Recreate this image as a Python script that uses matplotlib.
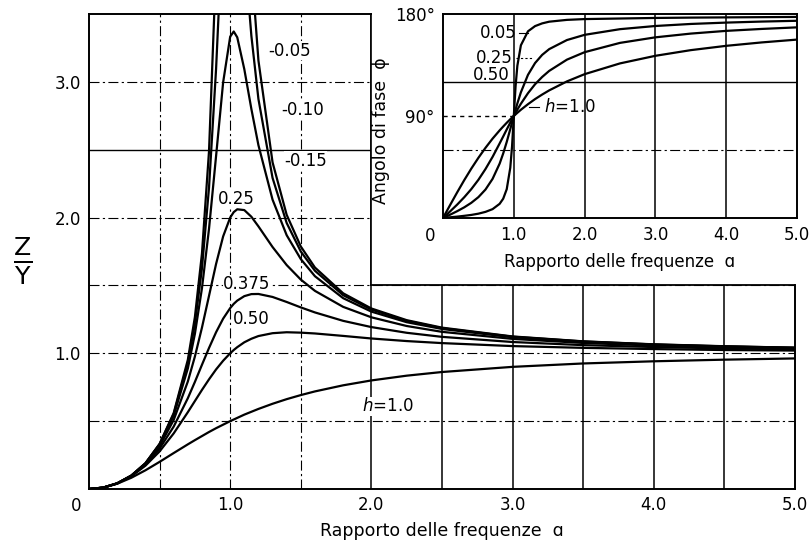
"""
Spostamento relativo Z/Y e angolo di fase in funzione del rapporto
delle frequenze, per diversi valori dello smorzamento h.
"""

import matplotlib
matplotlib.use("Agg")
import matplotlib.pyplot as plt
from matplotlib.patches import Rectangle

plt.rcParams["font.family"] = ["DejaVu Sans"]
plt.rcParams["mathtext.fontset"] = "dejavusans"

# ---------------------------------------------------------------------------
# Dati
# ---------------------------------------------------------------------------

# rapporto delle frequenze (grafico principale)
a_main = [0, 0.1, 0.2, 0.3, 0.4, 0.5, 0.6, 0.7, 0.75, 0.8, 0.85, 0.9, 0.95,
          1.0, 1.025, 1.05, 1.1, 1.15, 1.2, 1.3, 1.4, 1.5, 1.6, 1.8, 2.0,
          2.25, 2.5, 3.0, 3.5, 4.0, 4.5, 5.0]

zy_005 = [0, 0.010, 0.042, 0.099, 0.190, 0.333, 0.560, 0.952, 1.267, 1.735,
          2.489, 3.853, 6.630, 10.0, 9.190, 7.513, 5.104, 3.862, 3.157, 2.407,
          2.020, 1.787, 1.632, 1.442, 1.330, 1.244, 1.189, 1.124, 1.088,
          1.066, 1.052, 1.041]
zy_010 = [0, 0.010, 0.042, 0.099, 0.190, 0.330, 0.553, 0.927, 1.216, 1.625,
          2.220, 3.095, 4.226, 5.0, 4.976, 4.718, 3.978, 3.339, 2.873, 2.292,
          1.960, 1.750, 1.608, 1.428, 1.322, 1.239, 1.185, 1.122, 1.087,
          1.065, 1.051, 1.041]
zy_015 = [0, 0.010, 0.042, 0.098, 0.189, 0.327, 0.541, 0.888, 1.143, 1.479,
          1.917, 2.453, 2.996, 3.333, 3.371, 3.328, 3.093, 2.800, 2.533,
          2.132, 1.870, 1.694, 1.568, 1.406, 1.307, 1.229, 1.179, 1.118,
          1.084, 1.063, 1.049, 1.040]
zy_025 = [0, 0.010, 0.041, 0.098, 0.185, 0.316, 0.509, 0.792, 0.976, 1.189,
          1.423, 1.658, 1.861, 2.0, 2.040, 2.061, 2.055, 2.006, 1.935, 1.783,
          1.650, 1.543, 1.460, 1.342, 1.265, 1.201, 1.158, 1.106, 1.076,
          1.057, 1.045, 1.036]
zy_0375 = [0, 0.010, 0.041, 0.096, 0.179, 0.298, 0.460, 0.669, 0.789, 0.915,
           1.039, 1.155, 1.255, 1.333, 1.364, 1.388, 1.421, 1.436, 1.437,
           1.415, 1.378, 1.338, 1.301, 1.239, 1.193, 1.151, 1.121, 1.083,
           1.060, 1.046, 1.036, 1.029]
zy_050 = [0, 0.010, 0.041, 0.094, 0.172, 0.277, 0.410, 0.566, 0.648, 0.730,
          0.808, 0.881, 0.945, 1.0, 1.024, 1.045, 1.081, 1.107, 1.127, 1.148,
          1.155, 1.152, 1.146, 1.128, 1.109, 1.090, 1.075, 1.053, 1.040,
          1.031, 1.024, 1.020]
zy_100 = [0, 0.010, 0.039, 0.083, 0.138, 0.200, 0.265, 0.329, 0.360, 0.390,
          0.420, 0.448, 0.474, 0.500, 0.512, 0.524, 0.548, 0.569, 0.590,
          0.628, 0.662, 0.692, 0.719, 0.764, 0.800, 0.835, 0.862, 0.900,
          0.925, 0.941, 0.953, 0.962]

curve_main = [zy_005, zy_010, zy_015, zy_025, zy_0375, zy_050, zy_100]

# rapporto delle frequenze (riquadro dell'angolo di fase)
a_fase = [0, 0.1, 0.2, 0.3, 0.4, 0.5, 0.6, 0.7, 0.8, 0.85, 0.9, 0.95, 0.975,
          1.0, 1.025, 1.05, 1.1, 1.2, 1.3, 1.4, 1.5, 1.75, 2.0, 2.5, 3.0,
          3.5, 4.0, 4.5, 5.0]

fase_005 = [0, 0.6, 1.2, 1.9, 2.7, 3.8, 5.4, 7.8, 12.5, 17.0, 25.4, 44.3,
            63.1, 90.0, 116.3, 134.3, 152.4, 164.7, 169.3, 171.7, 173.2,
            174.8, 175.5, 176.0, 176.5, 176.8, 177.0, 177.2, 177.4]
fase_025 = [0, 2.9, 6.0, 9.4, 13.4, 18.4, 25.1, 34.5, 48.0, 56.9, 67.1, 78.4,
            84.2, 90.0, 95.6, 101.1, 110.9, 126.3, 136.7, 143.9, 149.0,
            157.0, 161.6, 166.6, 169.4, 171.2, 172.4, 173.3, 174.0]
fase_050 = [0, 5.8, 11.8, 18.3, 25.5, 33.7, 43.2, 53.9, 65.8, 71.9, 78.1,
            84.1, 87.1, 90.0, 92.8, 95.6, 100.8, 110.1, 118.0, 124.4, 129.8,
            139.7, 146.3, 154.5, 159.4, 162.7, 165.1, 166.8, 168.2]
fase_100 = [0, 11.4, 22.6, 33.4, 43.6, 53.1, 61.9, 70.0, 77.3, 80.7, 84.0,
            87.1, 88.6, 90.0, 91.4, 92.8, 95.5, 100.4, 104.9, 108.9, 112.6,
            120.5, 126.9, 136.4, 143.1, 148.1, 151.9, 154.9, 157.4]

curve_fase = [fase_005, fase_025, fase_050, fase_100]

tick_x = [0, 1, 2, 3, 4, 5]
tick_x_lab = ["0", "1.0", "2.0", "3.0", "4.0", "5.0"]
tick_y = [1, 2, 3]
tick_y_lab = ["1.0", "2.0", "3.0"]

XLABEL = "Rapporto delle frequenze  \u0251"

# ---------------------------------------------------------------------------
# Figura
# ---------------------------------------------------------------------------

LW_CURVA = 1.6
LW_GRIGLIA = 0.8
PUNTO_LINEA = (0, (9, 3, 2, 3))
# fondo bianco sotto le etichette: interrompe la griglia, non le curve
ETICH = dict(fc="white", ec="none", pad=0.3)

fig = plt.figure(figsize=(8.09, 5.44), dpi=100)
ax = fig.add_axes([0.110, 0.1011, 0.8727, 0.8732])
ax.set_xlim(0, 5)
ax.set_ylim(0, 3.5)

# griglia: tratteggiata nella zona di risonanza, continua a destra
for xv in [0.5, 1.0, 1.5]:
    ax.axvline(xv, color="black", lw=LW_GRIGLIA, ls=PUNTO_LINEA, zorder=1)
for xv in [2.0, 2.5, 3.0, 3.5, 4.0, 4.5]:
    ax.axvline(xv, color="black", lw=LW_GRIGLIA + 0.3, zorder=1)
for yv in [0.5, 1.0, 1.5, 2.0, 3.0]:
    ax.axhline(yv, color="black", lw=LW_GRIGLIA, ls=PUNTO_LINEA, zorder=1)
ax.axhline(2.5, color="black", lw=LW_GRIGLIA + 0.2, zorder=1)

# zona in alto a destra lasciata libera per il riquadro
ax.add_patch(Rectangle((2.0, 1.5), 3.2, 2.2, fc="white", ec="none",
                       zorder=2, clip_on=False))
ax.plot([2.0, 2.0], [1.5, 3.5], color="black", lw=1.2, zorder=2.5,
        clip_on=False)
ax.plot([2.0, 5.0], [1.5, 1.5], color="black", lw=1.3, zorder=2.5)
ax.plot([0, 2.0], [3.5, 3.5], color="black", lw=1.4, zorder=2.5,
        clip_on=False)
ax.plot([5.0, 5.0], [0, 1.5], color="black", lw=1.4, zorder=2.5,
        clip_on=False)

for zy in curve_main:
    ax.plot(a_main, zy, color="black", lw=LW_CURVA, zorder=3)

for s in ["top", "right"]:
    ax.spines[s].set_visible(False)
for s in ["left", "bottom"]:
    ax.spines[s].set_linewidth(1.4)

ax.set_xticks(tick_x[1:])
ax.set_xticklabels(tick_x_lab[1:], fontsize=12)
ax.set_yticks(tick_y)
ax.set_yticklabels(tick_y_lab, fontsize=12)
ax.tick_params(axis="x", length=0, pad=5)
ax.tick_params(axis="y", length=0, pad=6)
ax.text(-0.09, -0.06, tick_x_lab[0], fontsize=12, ha="center", va="top")
ax.set_xlabel(XLABEL, fontsize=12.5, labelpad=6)

fig.text(0.028, 0.52, r"$\frac{\mathrm{Z}}{\mathrm{Y}}$", fontsize=26,
         ha="center", va="center")

# etichette delle curve
kw = dict(fontsize=12, va="center", bbox=ETICH, zorder=2.8)
ax.text(1.27, 3.23, "-0.05", **kw)
ax.text(1.36, 2.79, "-0.10", **kw)
ax.text(1.38, 2.42, "-0.15", **kw)
ax.text(0.91, 2.14, "0.25", **kw)
ax.text(0.95, 1.51, "0.375", **kw)
ax.text(1.02, 1.25, "0.50", **kw)
ax.text(1.93, 0.61, r"$h$=1.0", **kw)

# ---------------------------------------------------------------------------
# Riquadro: angolo di fase
# ---------------------------------------------------------------------------

axi = fig.add_axes([0.5476, 0.5993, 0.4376, 0.375])
axi.set_zorder(5)
axi.set_facecolor("white")
axi.set_xlim(0, 5)
axi.set_ylim(0, 180)

for xv in [1, 2, 3, 4]:
    axi.axvline(xv, color="black", lw=1.1, zorder=1)
axi.axhline(120, color="black", lw=1.0, zorder=1)
axi.axhline(60, color="black", lw=LW_GRIGLIA, ls=PUNTO_LINEA, zorder=1)
axi.plot([0, 1], [90, 90], color="black", lw=1.0, ls=(0, (3, 3)), zorder=1)

for fase in curve_fase:
    axi.plot(a_fase, fase, color="black", lw=LW_CURVA, zorder=3)

for s in axi.spines.values():
    s.set_linewidth(1.4)

axi.set_xticks(tick_x[1:])
axi.set_xticklabels(tick_x_lab[1:], fontsize=12)
axi.set_yticks([90, 180])
axi.set_yticklabels(["90\u00b0", "180\u00b0"], fontsize=12)
axi.tick_params(length=0, pad=6)
axi.text(-0.18, -8, "0", fontsize=12, ha="center", va="top")
axi.set_xlabel(XLABEL, fontsize=12, labelpad=6)
axi.set_ylabel("Angolo di fase  \u03d5", fontsize=12.5)
axi.yaxis.set_label_coords(-0.15, 0.43)

kwi = dict(fontsize=12, va="center", zorder=4)
axi.text(0.52, 163, "0.05", **kwi)
axi.plot([1.08, 1.2], [163, 163], color="black", lw=0.8)
axi.text(0.46, 141, "0.25", **kwi)
axi.plot([1.03, 1.25], [141, 141], color="black", lw=0.8, ls=(0, (2, 2)))
axi.text(0.42, 126, "0.50", **kwi)
axi.text(1.42, 98, r"$h$=1.0", **kwi)
axi.plot([1.22, 1.36], [98, 98], color="black", lw=0.8)

fig.savefig("out.png", dpi=100)
